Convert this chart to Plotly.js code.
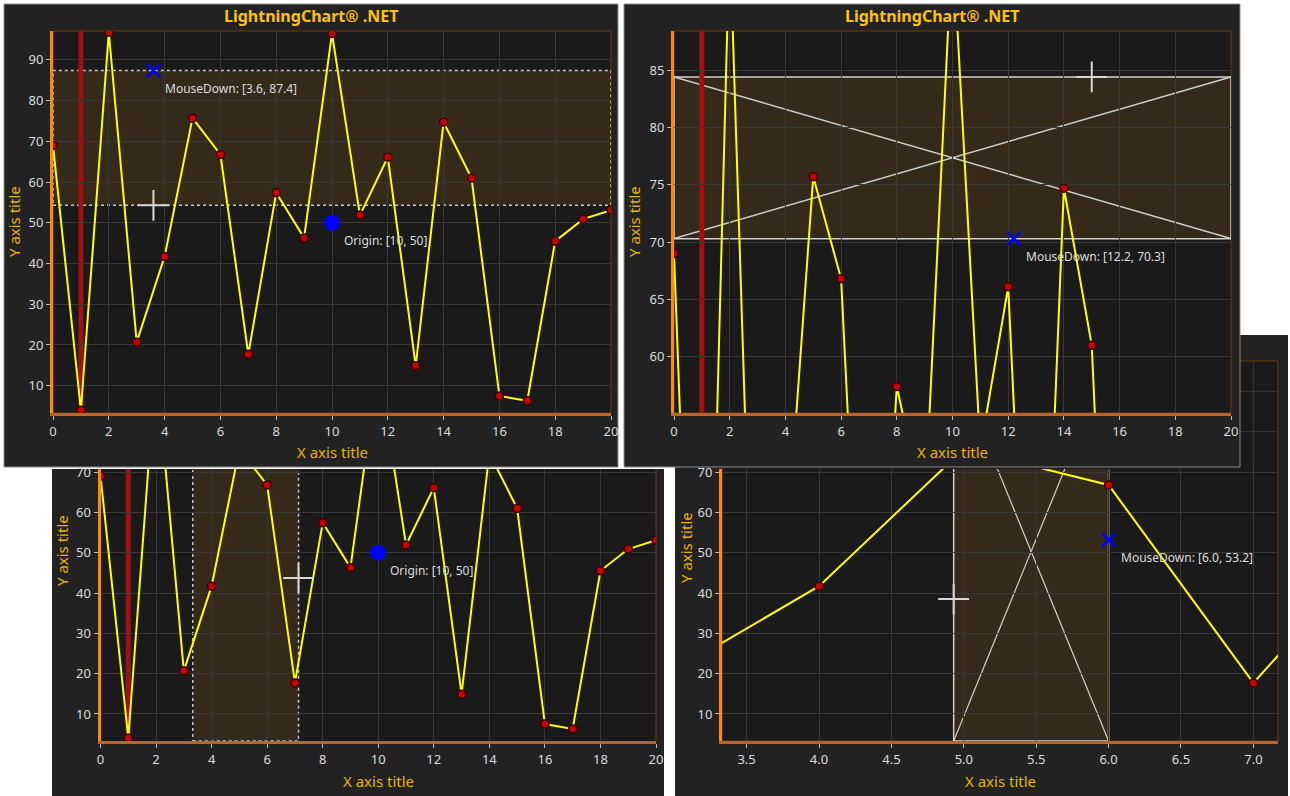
<!DOCTYPE html>
<html><head><meta charset="utf-8">
<script src="https://cdn.plot.ly/plotly-3.0.1.min.js"></script>
<style>html,body{margin:0;padding:0;background:#fff;overflow:hidden}#chart{width:1290px;height:796px}</style>
</head><body><div id="chart"></div>
<script>
// ---------- data ----------
const xValues = [0,1,2,3,4,5,6,7,8,9,10,11,12,13,14,15,16,17,18,19,20];
const yValues = [69.0,4.0,96.8,20.7,41.7,75.7,66.8,17.7,57.4,46.3,96.5,51.9,66.1,14.9,74.7,61.0,7.5,6.3,45.5,50.9,53.1];
const constantLineX = 1;
const chartTitle = "LightningChart® .NET";
const xTitle = "X axis title";
const yTitle = "Y axis title";
// panel 1: horizontal selection band + markers
const p1BandY = [54.3, 87.4];
const p1MouseDown = [3.6, 87.4];
const p1Cross = [3.6, 54.3];
const origin = [10, 50];
// panel 2: zoom rectangle
const p2RectX = [0, 20];
const p2RectY = [70.3, 84.4];
const p2MouseDown = [12.2, 70.3];
const p2Cross = [15, 84.4];
// panel 3: vertical selection band
const p3BandX = [3.32, 7.13];
const p3Cross = [7.13, 43.7];
// panel 4: zoom rectangle
const p4RectX = [4.93, 6.0];
const p4RectY = [3.3, 97.3];
const p4MouseDown = [6.0, 53.2];
const p4Cross = [4.93, 38.5];
// axis ranges
const p1XRange=[0,20], p1YRange=[3.3,97.1];
const p2XRange=[0,20], p2YRange=[55.1,88.4];
const p3XRange=[0,20], p3YRange=[3.3,70.75];
const p4XRange=[3.33,7.17], p4YRange=[3.3,70.75];
const p4HiddenGridY=[80,90];
const p4HiddenGridX=[7.0];

// ---------- layout helpers ----------
const W=1290,H=796;
const px=v=>v/W, py=v=>1-v/H;
const FONT='Noto Sans, Open Sans, sans-serif';
const GOLD='#ffc400', GOLD2='#e8b400';
const FRAME='#222222', PLOTBG='#1a1a1a', BORDER='#6a3c0a';

function xa(d,range,dtick,anchor,fmt){
  return {domain:[px(d[0]),px(d[1])],range:range,dtick:dtick,tick0:0,anchor:anchor,
    showgrid:true,gridcolor:'#383838',gridwidth:1,zeroline:false,
    showline:true,linecolor:'#b8642c',linewidth:3,
    ticks:'outside',ticklen:4,tickcolor:'#bbbbbb',tickformat:fmt||'',
    tickfont:{family:FONT,size:13,color:'#dcdcdc'},fixedrange:true};
}
function ya(d,range,dtick,anchor){
  return {domain:[py(d[1]),py(d[0])],range:range,dtick:dtick,tick0:0,anchor:anchor,
    showgrid:true,gridcolor:'#383838',gridwidth:1,zeroline:false,
    showline:true,linecolor:'#ff8c00',linewidth:3,
    ticks:'outside',ticklen:4,tickcolor:'#bbbbbb',
    tickfont:{family:FONT,size:13,color:'#dcdcdc'},fixedrange:true};
}
const P = {
  1:{fx:[4,618],fy:[4,467],x:[53,611],y:[31,413]},
  2:{fx:[624,1240],fy:[4,467],x:[674,1231],y:[31,413]},
  3:{fx:[52,664],fy:[469,796],x:[100.5,656],y:[469,741]},
  4:{fx:[675,1288],fy:[335,796],x:[722,1278],y:[469,741]}
};
function prect(x0,x1,y0,y1,fill,line,lw){
  return {type:'rect',xref:'paper',yref:'paper',layer:'below',x0:px(x0),x1:px(x1),y0:py(y1),y1:py(y0),
    fillcolor:fill,line:{color:line||fill,width:lw||0}};
}
function pline(x0,y0,x1,y1,color,w){
  return {type:'line',xref:'paper',yref:'paper',layer:'below',x0:px(x0),x1:px(x1),y0:py(y0),y1:py(y1),line:{color:color,width:w}};
}

const shapes=[];
// panel 3 frame
shapes.push(prect(P[3].fx[0],P[3].fx[1],P[3].fy[0],P[3].fy[1],FRAME));
shapes.push(prect(P[3].x[0],P[3].x[1],P[3].y[0],P[3].y[1],PLOTBG));
shapes.push(pline(P[3].x[1],P[3].y[0],P[3].x[1],P[3].y[1],BORDER,1));
// panel 4 frame (upper part partly hidden by panel 2)
shapes.push(prect(P[4].fx[0],P[4].fx[1],P[4].fy[0],P[4].fy[1],FRAME));
shapes.push(prect(P[4].x[0],P[4].x[1],361,P[4].y[1],PLOTBG,BORDER,1));
// hidden upper grid of panel 4 (continuation of its y scale above the clipped domain)
const p4ppu=(P[4].y[1]-P[4].y[0])/(p4YRange[1]-p4YRange[0]);
p4HiddenGridY.forEach(v=>{
  const yy=P[4].y[0]-(v-p4YRange[1])*p4ppu;
  shapes.push(pline(P[4].x[0],yy,P[4].x[1]-1,yy,'#383838',1));
});
p4HiddenGridX.forEach(v=>{
  shapes.push({type:'line',xref:'x4',yref:'paper',layer:'below',x0:v,x1:v,y0:py(362),y1:py(P[4].y[0]),line:{color:'#383838',width:1}});
});
// panel 1 and 2 frames
[1,2].forEach(k=>{
  shapes.push(prect(P[k].fx[0],P[k].fx[1],P[k].fy[0],P[k].fy[1],FRAME,'#8a8a8a',1));
  shapes.push(prect(P[k].x[0],P[k].x[1],P[k].y[0],P[k].y[1],PLOTBG,BORDER,1));
});

// data-referenced shapes
// panel 1 horizontal band
shapes.push({type:'rect',xref:'x',yref:'y',layer:'below',x0:p1XRange[0],x1:p1XRange[1],y0:p1BandY[0],y1:p1BandY[1],
  fillcolor:'#35291a',line:{color:'#c8c8c8',width:1.5,dash:'dot'}});
// panel 3 vertical band
shapes.push({type:'rect',xref:'x3',yref:'y3',layer:'below',x0:p3BandX[0],x1:p3BandX[1],y0:p3YRange[0],y1:120,
  fillcolor:'#35291a',line:{color:'#c8c8c8',width:1.5,dash:'dot'}});
// panel 2 zoom rect with diagonals
shapes.push({type:'rect',xref:'x2',yref:'y2',layer:'below',x0:p2RectX[0],x1:p2RectX[1],y0:p2RectY[0],y1:p2RectY[1],
  fillcolor:'#35291a',line:{color:'#d0d0d0',width:1.5}});
shapes.push({type:'line',xref:'x2',yref:'y2',layer:'below',x0:p2RectX[0],y0:p2RectY[1],x1:p2RectX[1],y1:p2RectY[0],line:{color:'#d0d0d0',width:1.5}});
shapes.push({type:'line',xref:'x2',yref:'y2',layer:'below',x0:p2RectX[0],y0:p2RectY[0],x1:p2RectX[1],y1:p2RectY[1],line:{color:'#d0d0d0',width:1.5}});
// panel 4 zoom rect with diagonals
shapes.push({type:'rect',xref:'x4',yref:'y4',layer:'below',x0:p4RectX[0],x1:p4RectX[1],y0:p4RectY[0],y1:p4RectY[1],
  fillcolor:'#35291a',line:{color:'#d0d0d0',width:1.5}});
shapes.push({type:'line',xref:'x4',yref:'y4',layer:'below',x0:p4RectX[0],y0:p4RectY[0],x1:p4RectX[1],y1:p4RectY[1],line:{color:'#d0d0d0',width:1.2}});
shapes.push({type:'line',xref:'x4',yref:'y4',layer:'below',x0:p4RectX[0],y0:p4RectY[1],x1:p4RectX[1],y1:p4RectY[0],line:{color:'#d0d0d0',width:1.2}});
// constant red line at x=1
[['x','y'],['x2','y2'],['x3','y3']].forEach(r=>{
  shapes.push({type:'line',xref:r[0],yref:r[1],layer:'below',x0:constantLineX,x1:constantLineX,y0:-50,y1:150,line:{color:'#a01212',width:5}});
});

// ---------- traces ----------
const ids=[['x','y'],['x2','y2'],['x3','y3'],['x4','y4']];
const traces=[];
ids.forEach(r=>{
  traces.push({x:xValues,y:yValues,xaxis:r[0],yaxis:r[1],mode:'lines+markers',
    line:{color:'#ffff00',width:2},
    marker:{color:'#c80000',size:8,line:{color:'#3a0000',width:1.5}},
    hoverinfo:'skip',showlegend:false});
});
function cross(pt,r){return {x:[pt[0]],y:[pt[1]],xaxis:r[0],yaxis:r[1],mode:'markers',cliponaxis:false,
  marker:{symbol:'cross-thin-open',size:22,color:'#d8d8d8',line:{color:'#d8d8d8',width:2}},hoverinfo:'skip',showlegend:false};}
function xmark(pt,r){return {x:[pt[0]],y:[pt[1]],xaxis:r[0],yaxis:r[1],mode:'markers',cliponaxis:false,
  marker:{symbol:'x-thin-open',size:13,color:'#0000ff',line:{color:'#0000ff',width:2.5}},hoverinfo:'skip',showlegend:false};}
function omark(pt,r){return {x:[pt[0]],y:[pt[1]],xaxis:r[0],yaxis:r[1],mode:'markers',
  marker:{symbol:'circle',size:16,color:'#0000ff'},hoverinfo:'skip',showlegend:false};}
traces.push(cross(p1Cross,ids[0]),xmark(p1MouseDown,ids[0]),omark(origin,ids[0]));
traces.push(cross(p2Cross,ids[1]),xmark(p2MouseDown,ids[1]));
traces.push(cross(p3Cross,ids[2]),omark(origin,ids[2]));
traces.push(cross(p4Cross,ids[3]),xmark(p4MouseDown,ids[3]));

// ---------- annotations ----------
const ann=[];
function label(text,pt,r){ann.push({text:text,x:pt[0],y:pt[1],xref:r[0],yref:r[1],xanchor:'left',yanchor:'middle',
  xshift:10,yshift:-18,showarrow:false,font:{family:FONT,size:12,color:'#dddddd'}});}
const fmt=pt=>'['+pt[0].toFixed(1)+', '+pt[1].toFixed(1)+']';
label('MouseDown: '+fmt(p1MouseDown),p1MouseDown,ids[0]);
label('Origin: ['+origin[0]+', '+origin[1]+']',origin,ids[0]);
label('MouseDown: '+fmt(p2MouseDown),p2MouseDown,ids[1]);
label('Origin: ['+origin[0]+', '+origin[1]+']',origin,ids[2]);
label('MouseDown: '+fmt(p4MouseDown),p4MouseDown,ids[3]);
function ptext(text,x,y,opt){ann.push(Object.assign({text:text,x:px(x),y:py(y),xref:'paper',yref:'paper',
  xanchor:'center',yanchor:'middle',showarrow:false},opt));}
[1,2].forEach(k=>ptext('<b>'+chartTitle+'</b>',(P[k].fx[0]+P[k].fx[1])/2,16,{font:{family:FONT,size:16,color:GOLD}}));
const xt={1:452,2:452,3:781,4:781};
const ytx={1:14,2:634,3:62,4:686};
const yty={1:222,2:222,3:551,4:548};
[1,2,3,4].forEach(k=>{
  ptext(xTitle,(P[k].x[0]+P[k].x[1])/2,xt[k],{font:{family:FONT,size:15,color:GOLD2}});
  ptext(yTitle,ytx[k],yty[k],{textangle:-90,font:{family:FONT,size:15,color:GOLD2}});
});

const layout={
  width:W,height:H,margin:{l:0,r:0,t:0,b:0},paper_bgcolor:'#ffffff',plot_bgcolor:'rgba(0,0,0,0)',
  showlegend:false,
  xaxis:xa(P[1].x,p1XRange,2,'y'), yaxis:ya(P[1].y,p1YRange,10,'x'),
  xaxis2:xa(P[2].x,p2XRange,2,'y2'), yaxis2:ya(P[2].y,p2YRange,5,'x2'),
  xaxis3:xa(P[3].x,p3XRange,2,'y3'), yaxis3:ya(P[3].y,p3YRange,10,'x3'),
  xaxis4:xa(P[4].x,p4XRange,0.5,'y4','.1f'), yaxis4:ya(P[4].y,p4YRange,10,'x4'),
  shapes:shapes, annotations:ann
};
Plotly.newPlot('chart',traces,layout,{staticPlot:true,displayModeBar:false});
</script></body></html>
